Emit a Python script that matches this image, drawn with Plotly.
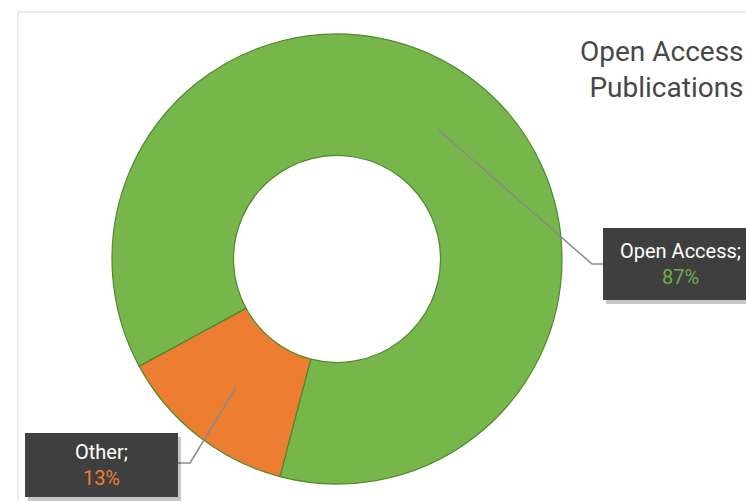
import math
import plotly.graph_objects as go

# ---- data ----
labels = ["Open Access", "Other"]
values = [87, 13]
slice_colors = ["#77B64A", "#ED7D31"]
pct_colors = ["#70AD47", "#ED7D31"]
title_lines = ["Open Access", "Publications"]

# ---- layout constants (pixels) ----
W, H = 746, 501
CX, CY, R = 337, 259, 225
HOLE = 0.46
ROT = 241.5


def px(x):
    return x / W


def py(y):
    return 1 - y / H


fig = go.Figure()
fig.add_trace(go.Pie(
    labels=labels, values=values, hole=HOLE, sort=False,
    direction="clockwise", rotation=ROT,
    marker=dict(colors=slice_colors, line=dict(color="#4F8A2F", width=1.2)),
    textinfo="none", showlegend=False, hoverinfo="label+percent",
    domain=dict(x=[px(CX - R), px(CX + R)], y=[py(CY + R), py(CY - R)]),
))

shapes = []
annotations = []

# outer faint frame
shapes.append(dict(type="rect", xref="paper", yref="paper",
                   x0=px(18), x1=px(760), y0=py(520), y1=py(12),
                   line=dict(color="#ececec", width=2), fillcolor="rgba(0,0,0,0)", layer="below"))

# label anchor points computed from the data
total = sum(values)
mid_r = R * (1 + HOLE) / 2
cum = 0
anchors = []
for v in values:
    mid = ROT + (cum + v / 2) / total * 360
    a = math.radians(mid)
    anchors.append((CX + mid_r * math.sin(a), CY - mid_r * math.cos(a)))
    cum += v

# label boxes: (x0, y0, x1, y1), elbow point, text center
boxes = [
    dict(box=(603, 228, 760, 300), elbow=(592, 264), tx=680, ty=264, side="left"),
    dict(box=(25, 433, 178, 497), elbow=(190, 463), tx=101, ty=465, side="right"),
]

for i, b in enumerate(boxes):
    x0, y0, x1, y1 = b["box"]
    ax, ay = anchors[i]
    ex, ey = b["elbow"]
    edge_x = x0 if b["side"] == "left" else x1
    # leader line
    shapes.append(dict(type="path", xref="paper", yref="paper",
                       path=f"M {px(ax)},{py(ay)} L {px(ex)},{py(ey)} L {px(edge_x)},{py(ey)}",
                       line=dict(color="#8a8a8a", width=1.5)))
    # shadow
    shapes.append(dict(type="rect", xref="paper", yref="paper",
                       x0=px(x0 + 3), x1=px(x1 + 3), y0=py(y1 + 4), y1=py(y0 + 4),
                       line=dict(width=0), fillcolor="rgba(0,0,0,0.22)"))
    # box
    shapes.append(dict(type="rect", xref="paper", yref="paper",
                       x0=px(x0), x1=px(x1), y0=py(y1), y1=py(y0),
                       line=dict(width=0), fillcolor="#3f3f3f"))
    pct = round(values[i] / total * 100)
    annotations.append(dict(
        xref="paper", yref="paper", x=px(b["tx"]), y=py(b["ty"]),
        xanchor="center", yanchor="middle", showarrow=False, align="center",
        text=f"{labels[i]};<br><span style='color:{pct_colors[i]}'>{pct}%</span>",
        font=dict(family="Roboto, Noto Sans, sans-serif", size=20, color="#ffffff"),
    ))

# title
annotations.append(dict(
    xref="paper", yref="paper", x=px(746), y=py(33), xanchor="right", yanchor="top",
    showarrow=False, align="right", text="<br>".join(title_lines),
    font=dict(family="Roboto, Noto Sans, sans-serif", size=28, color="#474747"),
))

fig.update_layout(
    width=W, height=H, margin=dict(l=0, r=0, t=0, b=0),
    paper_bgcolor="#ffffff", plot_bgcolor="#ffffff",
    shapes=shapes, annotations=annotations,
)

fig.write_html(
    "out.html",
    config={"displayModeBar": False},
    post_script="document.body.style.margin='0';document.body.style.overflow='hidden';",
)
